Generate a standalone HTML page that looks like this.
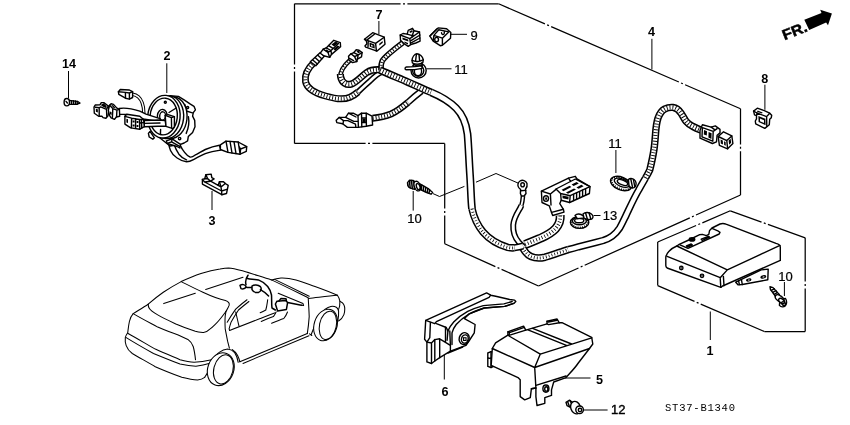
<!DOCTYPE html>
<html>
<head>
<meta charset="utf-8">
<title>SRS Unit Diagram</title>
<style>
html,body{margin:0;padding:0;background:#fff;}
body{width:850px;height:425px;overflow:hidden;font-family:"Liberation Sans",sans-serif;}
svg{display:block;will-change:transform;}
.l{fill:none;stroke:#000;stroke-width:1.4;stroke-linejoin:round;stroke-linecap:round;}
.w{fill:#fff;stroke:#000;stroke-width:1.4;stroke-linejoin:round;stroke-linecap:round;}
.t{fill:none;stroke:#000;stroke-width:0.8;stroke-linejoin:round;stroke-linecap:round;}
.tw{fill:#fff;stroke:#000;stroke-width:0.8;stroke-linejoin:round;stroke-linecap:round;}
.c{fill:none;stroke:#000;stroke-width:1.05;stroke-linejoin:round;stroke-linecap:round;}
.cw{fill:#fff;stroke:#000;stroke-width:1.05;stroke-linejoin:round;stroke-linecap:round;}
.ld{fill:none;stroke:#000;stroke-width:1;}
.dd{fill:none;stroke:#000;stroke-width:1.2;stroke-dasharray:62 2.5 2.5 2.5;}
.k{fill:#000;stroke:none;}
text{font-family:"Liberation Sans",sans-serif;fill:#000;}
.b{font-weight:bold;font-size:12.6px;}
.r{font-weight:normal;font-size:13px;stroke:#000;stroke-width:0.22px;}
</style>
</head>
<body>
<svg width="850" height="425" viewBox="0 0 850 425">
<rect x="0" y="0" width="850" height="425" fill="#fff"/>

<!-- ===== BOXES ===== -->
<g id="boxes" fill="none" stroke="#000" stroke-width="1.25" stroke-linecap="butt">
<path d="M294.5,3.8 L498.6,3.8" stroke-dasharray="106.1 2.4 2.0 2.4 92.2"/>
<path d="M498.6,3.8 L740.5,108.8" stroke-dasharray="50.5 2.4 2.0 2.4 139.2 2.4 2.0 2.4 61.4"/>
<path d="M740.5,108.8 L740.5,195.0" stroke-dasharray="35.6 2.4 2.0 2.4 44.8"/>
<path d="M740.5,195.0 L538.5,286.0" stroke-dasharray="48.8 2.4 2.0 2.4 115.3 2.4 2.0 2.4 44.9"/>
<path d="M538.5,286.0 L444.7,243.8" stroke-dasharray="40.5 2.4 2.0 2.4 56.6"/>
<path d="M444.7,243.8 L444.7,143.4" stroke-dasharray="28.4 2.4 2.0 2.4 66.2"/>
<path d="M444.7,143.4 L294.5,143.4" stroke-dasharray="72.3 2.4 2.0 2.4 72.1"/>
<path d="M294.5,143.4 L294.5,3.8" stroke-dasharray="72.0 2.4 2.0 2.4 61.8"/>
<path d="M657.7,242.0 L730.3,210.8" stroke-dasharray="41.8 2.4 2.0 2.4 31.4"/>
<path d="M730.3,210.8 L805.2,237.8" stroke-dasharray="33.2 2.4 2.0 2.4 40.6"/>
<path d="M805.2,237.8 L805.2,331.5" stroke-dasharray="43.8 2.4 2.0 2.4 44.1"/>
<path d="M805.2,331.5 L764.4,331.5" stroke-dasharray="41.8"/>
<path d="M764.4,331.5 L657.7,285.6" stroke-dasharray="69.3 2.4 2.0 2.4 41.1"/>
<path d="M657.7,285.6 L657.7,242.0" stroke-dasharray="44.6"/>
</g>

<!-- ===== LEADERS ===== -->
<g id="leaders" class="ld">
<path d="M68.5,71 V98"/>
<path d="M166.8,63.3 V93"/>
<path d="M212,191 V210"/>
<path d="M378.9,21 V34.2"/>
<path d="M451,34.3 H467"/>
<path d="M426.2,68.8 H451.5"/>
<path d="M651.9,38.8 V69.5"/>
<path d="M764.9,84.7 V109.8"/>
<path d="M615.9,150 V173"/>
<path d="M593.6,215.5 H600.5"/>
<path d="M413.2,191 V210.6"/>
<path d="M433,193.6 L439.5,196.5 L464.4,186.4 M476,182.2 L496,173.5 L518.6,183.3"/>
<path d="M784.4,282 V296"/>
<path d="M710.3,311.5 V340"/>
<path d="M444.3,353 V379.5"/>
<path d="M565,378 H590.5"/>
<path d="M584,410 H607.6"/>
</g>

<!-- ===== LABELS ===== -->
<g id="labels">
<text class="b" x="69" y="67.5" text-anchor="middle">14</text>
<text class="b" x="167" y="60.2" text-anchor="middle">2</text>
<text class="b" x="212" y="225" text-anchor="middle">3</text>
<text class="b" x="379" y="18.8" text-anchor="middle">7</text>
<text class="r" x="474" y="40" text-anchor="middle">9</text>
<text class="r" x="461" y="74" text-anchor="middle">11</text>
<text class="b" x="651.5" y="36.4" text-anchor="middle">4</text>
<text class="b" x="764.8" y="83" text-anchor="middle">8</text>
<text class="r" x="615" y="148.3" text-anchor="middle">11</text>
<text class="r" x="610" y="220.4" text-anchor="middle">13</text>
<text class="r" x="414.5" y="223" text-anchor="middle">10</text>
<text class="r" x="785.5" y="281" text-anchor="middle">10</text>
<text class="b" x="710" y="355" text-anchor="middle">1</text>
<text class="b" x="445" y="396" text-anchor="middle">6</text>
<text class="b" x="599.5" y="383.5" text-anchor="middle">5</text>
<text class="r" x="618.3" y="414" text-anchor="middle" style="stroke-width:0.4px">12</text>
<text x="665" y="410.8" font-family="Liberation Mono, monospace" font-size="10.5" textLength="70" lengthAdjust="spacing" style="font-family:'Liberation Mono',monospace">ST37-B1340</text>
</g>

<!-- ===== FR ARROW ===== -->
<g id="fr">
<polygon class="k" points="804.3,19.7 821.5,12.9 820.2,9.7 831.9,13.6 828,25.2 826.1,22.6 809.2,30"/>
<text transform="translate(784.5,40.2) rotate(-21.5)" font-weight="bold" font-size="14.5" textLength="25.5" lengthAdjust="spacingAndGlyphs" stroke="#000" stroke-width="0.5">FR.</text>
</g>

<!-- ===== HARNESS (part 4) ===== -->
<defs>
<path id="T1r" d="M314.5,62 C308,68 304.2,74 305.5,81.5 C307,89 316.5,93.5 325.5,96 C333.5,98.3 342,100.5 350,97.2 C353,96 355.5,94.2 358,92"/>
<path id="T1s" d="M358,92 C362,88.2 366,84.4 370,81 C374,77 378,73.5 382,72"/>
<path id="T2a" d="M350.2,60 C344,65.5 339.8,71 340.6,77"/>
<path id="T2" d="M340.4,74 C340.4,75 340.5,76 340.7,77 C341.8,82.6 346.5,85.6 351.5,84 C356.5,82.4 361,76.6 367,72.4 C371,69.8 376,69.4 381,69.8"/>
<path id="T3" d="M403,42.6 C398,46.4 393,50.4 389.4,53.4 C386,56.4 383.6,58.8 382.4,60.6 C381.2,63 380.8,66 381,70"/>
<path id="T4a" d="M380,70 C390,74.6 400,78.6 408,82.2 C418,86.6 425,89.8 431,92.3"/>
<path id="T4b" d="M431,92.3 C440,96 450,102 456,108 C462,114 466,122 467.5,134 C468.5,145 469,160 470,175 C471,190 471,200 472,208.8"/>
<path id="T4c" d="M472,208.8 C474,218 478,226 483,232 C489,239 498,244.5 507.8,247.4 C510,247.9 512,248 514.5,247.8"/>
<path id="T4d" d="M514.5,247.8 C517,247.4 520,246.8 523,246"/>
<path id="T5r" d="M372.6,118.2 C380,117.4 386,116 391,114 C397,111.4 402,107.6 408,102.4"/>
<path id="T5s" d="M408,102.4 C412,98.6 416,95.2 421.5,91"/>
<path id="T6a" d="M523,196 C522.7,199.6 522.3,202.6 521.4,205.4"/>
<path id="T6" d="M521.4,205.4 C520.8,207 520,208.6 519,210 C516,215 513.6,219 513.2,225 C512.8,232 515.2,238 518.7,242 L523.6,247"/>
<path id="T7" d="M525,244.6 C531,242 537,239.6 541.4,237.8 C548,234.8 552.4,232 555.6,228.6 C559,224.6 560.6,220.4 560.2,215.4"/>
<path id="T8r" d="M522.8,248 C525,252 527.5,255 531,256.5 C535,258.2 540,258.4 545,257.2 C552,255.2 556,253.4 562,251.6 L568,249.6"/>
<path id="T8s" d="M568,249.6 C572,248.6 575,247.8 578.5,246.8 C587,244.6 595,242.6 603.2,240.5 C606.5,239.4 609.5,238 612,236.2 C615,234 617.6,231.2 619.7,227.9 C622,224 624,219.5 626.2,215 C630,207 634,198 638.7,190 C641,185.6 643.4,181.6 645.5,178"/>
<path id="T8t" d="M645.5,178 C647,175.4 648.6,172.6 649.8,170 C651.5,163 653,156 654,149.4 C654.8,144 655.2,138 655.6,133 C656,127.5 656.6,122.5 658,118.1 C659.6,113.5 662,110.5 664.7,109 C667.4,107.6 670,107.2 672.9,107.4 C676,107.8 679,110 681.1,113.2 C683,116 684.3,119 686.1,121.4 C688,123.6 690,125.2 692.7,126.4 C695,127.6 697.6,128.8 701,130.2"/>
</defs>
<g id="harness" fill="none" stroke-linecap="butt" stroke-linejoin="round">
 <use href="#T1r" stroke="#000" stroke-width="7.0"/><use href="#T1r" stroke="#fff" stroke-width="3.9"/><use href="#T1r" stroke="#000" stroke-width="3.9" stroke-dasharray="0.9 2"/>
 <use href="#T1s" stroke="#000" stroke-width="5.9"/><use href="#T1s" stroke="#fff" stroke-width="2.8"/>
 <use href="#T2a" stroke="#000" stroke-width="4.8"/><use href="#T2a" stroke="#fff" stroke-width="2.0"/><use href="#T2a" stroke="#000" stroke-width="2.0" stroke-dasharray="0.9 2"/>
 <use href="#T2" stroke="#000" stroke-width="7.2"/><use href="#T2" stroke="#fff" stroke-width="4.0"/><use href="#T2" stroke="#000" stroke-width="4.0" stroke-dasharray="0.9 2"/>
 <use href="#T3" stroke="#000" stroke-width="5.6"/><use href="#T3" stroke="#fff" stroke-width="2.7"/><use href="#T3" stroke="#000" stroke-width="2.7" stroke-dasharray="0.9 2"/>
 <use href="#T5r" stroke="#000" stroke-width="7.0"/><use href="#T5r" stroke="#fff" stroke-width="3.9"/><use href="#T5r" stroke="#000" stroke-width="3.9" stroke-dasharray="0.9 2"/>
 <use href="#T5s" stroke="#000" stroke-width="6.7"/><use href="#T5s" stroke="#fff" stroke-width="3.7"/>
 <use href="#T6a" stroke="#000" stroke-width="4.6"/><use href="#T6a" stroke="#fff" stroke-width="1.8"/>
 <use href="#T6" stroke="#000" stroke-width="6.0"/><use href="#T6" stroke="#fff" stroke-width="3.0"/>
 <use href="#T7" stroke="#000" stroke-width="9.0"/><use href="#T7" stroke="#fff" stroke-width="6.0"/><use href="#T7" stroke="#000" stroke-width="3.6" stroke-dasharray="0.8 2.2"/>
 <use href="#T8r" stroke="#000" stroke-width="7.6"/><use href="#T8r" stroke="#fff" stroke-width="4.6"/><use href="#T8r" stroke="#000" stroke-width="3.0" stroke-dasharray="0.8 2.2"/>
 <use href="#T8s" stroke="#000" stroke-width="7.4"/><use href="#T8s" stroke="#fff" stroke-width="4.4"/>
 <use href="#T8t" stroke="#000" stroke-width="7.4"/><use href="#T8t" stroke="#fff" stroke-width="4.3"/><use href="#T8t" stroke="#000" stroke-width="4.3" stroke-dasharray="0.9 2"/>
 <use href="#T4a" stroke="#000" stroke-width="7.7"/><use href="#T4a" stroke="#fff" stroke-width="4.6"/><use href="#T4a" stroke="#000" stroke-width="4.6" stroke-dasharray="0.9 2"/>
 <use href="#T4b" stroke="#000" stroke-width="7.9"/><use href="#T4b" stroke="#fff" stroke-width="4.8"/>
 <use href="#T4c" stroke="#000" stroke-width="7.6"/><use href="#T4c" stroke="#fff" stroke-width="4.6"/><use href="#T4c" stroke="#000" stroke-width="3.0" stroke-dasharray="0.8 2.2"/>
 <use href="#T4d" stroke="#000" stroke-width="7.0"/><use href="#T4d" stroke="#fff" stroke-width="4.0"/>
</g>
<!-- ===== HARNESS CONNECTORS ===== -->
<g id="conn1">
 <polygon class="w" points="320.3,52.6 324.2,56.2 315.8,65.8 310.3,61.8"/>
 <path class="l" d="M317.8,55.2 L321.8,58.8 M315.3,57.8 L319.4,61.6 M312.8,60 L317.4,64" stroke-width="1.2"/>
 <polygon class="w" points="320.3,53.2 323.2,49.1 326.2,47.9 333.8,40.3 340.3,42.6 340.6,46.8 331.5,54.4 329.7,57.4 323.8,55.8"/>
 <path class="l" d="M326.2,47.9 L331,50.5 L338.5,43.5 M331,50.5 L331.5,54.4 M323.2,49.1 L328,52.5 L329.7,57.4 M328,52.5 L331,50.5 M328.6,45.6 L333,48.4" stroke-width="1.1"/>
 <path class="k" d="M331.4,44.6 L335.5,41.6 L338.4,43 L334.2,46.6 Z M333.5,49 L337.5,45.6 L339.8,46.6 L335,50.8 Z M324.4,50.4 L326.6,49.4 L329.6,51.4 L327.6,52.6 Z"/>
</g>
<g id="conn2">
 <polygon class="w" points="348.5,56.2 350.9,53.8 353.8,52.6 356.2,49.7 359.1,50.3 362.1,52.6 361.5,56.8 357.4,59.1 356.8,61.5 352.6,62.6 349.1,60.3"/>
 <path class="l" d="M353.8,52.6 L358.2,54.8 L362.1,52.6 M358.2,54.8 L357.4,59.1 M350.9,53.8 L354.6,56.6 L356.8,61.5 M354.6,56.6 L358.2,54.8 M349.5,58.4 L353.6,60.6"/>
 <path class="k" d="M356.4,51.3 L358.6,50.8 L360.4,52.2 L358.4,53.3 Z"/>
</g>
<g id="conn3">
 <polygon class="w" points="400.2,35 403,33.5 407.2,34.1 408.2,30.4 412.5,28.3 414,30.7 419.5,32 420.1,41.1 415.8,43 410.9,44.5 408.2,46.4 404.8,44.2 400.5,40.2"/>
 <path class="l" d="M400.2,35 L409.8,38.6 L410.6,44.6 M409.8,38.6 L419.5,32 M407.2,34.1 L412.2,35.6 L414,30.7 M412.2,35.6 L412.6,37 M411.4,40.4 L420,35 M411.6,42.6 L420,38" stroke-width="1.1"/>
 <path class="k" d="M402.4,37.4 L408.2,39.4 L408.4,41.6 L402.6,39.6 Z M409.4,31.4 L412.2,30 L412.8,31.8 L410,33 Z M410.8,36.2 L413,34.4 L414.6,35.2 L412.4,37 Z M404.4,41.4 L408,43 L408,44.4 L404.6,43 Z"/>
</g>
<g id="connB">
 <polygon class="w" points="336.2,120.3 339.1,117.4 345.6,117.4 348.5,113.2 353.2,113.2 358,115.6 361.5,113.2 366.2,113.2 372,116.2 372.6,125 366.2,126.2 358,127.4 347.4,127.4 342.6,123.8 336.8,122.6"/>
 <path class="l" d="M339.1,117.4 L343.5,120.6 L347.8,120.6 L355.5,124.2 L355.8,127.3 M345.6,117.4 L353.8,121.4 L358.2,121.2 L358,115.6 M348.5,113.2 L356,117 M358.2,121.2 L358.4,127.3 M361.5,113.2 L361.8,126.8 M366.2,113.2 L366.4,126 M343.5,120.6 L343,123.8 M361.8,118 L366.2,118 M361.8,122.5 L366.2,122.5"/>
 <path class="k" d="M362.4,118.6 H365.8 V122 H362.4 Z"/>
</g>
<g id="connBig">
 <!-- silhouette -->
 <path class="w" d="M541.4,191.2 L568.5,178.2 L575.3,176.3 L577,178.8 L590,186.7 L589.4,193.5 L569.6,202.5 L561.2,200.2 L559.8,203.6 L563.4,209.3 L564,212.1 L552.7,215.5 L551.6,212.7 L549.3,205.9 L542,202.5 Z"/>
 <!-- flange -->
 <path class="l" d="M541.4,191.2 L550.4,194 L551,205 M550.4,194 L556,189.4 M551.6,212.4 L563.4,209.3" stroke-width="1.2"/>
 <ellipse class="w" cx="546" cy="198.6" rx="2.5" ry="2.8" stroke-width="1.2"/>
 <path class="k" d="M545.2,197.4 h1.8 v2.4 h-1.8 z"/>
 <!-- body -->
 <path class="l" d="M556,189 L575.3,179 L590,186.7 M556,189 L560.6,193.5 L570.2,195.7 L589.4,186.9 M570.2,195.7 L569.6,202.5 M560.6,193.5 L561.2,200.2 M568.5,178.2 L570.6,181.4" stroke-width="1.2"/>
 <path class="l" d="M573.6,194.4 V200.6 M576.6,193 V199.2 M579.6,191.6 V197.8 M582.6,190.2 V196.4 M585.6,188.8 V195" stroke-width="1"/>
 <path class="k" d="M561.6,189.8 L569.6,185.8 L571.4,187 L563.4,191.2 Z M566,192.4 L574,188.4 L576,189.6 L568,193.8 Z M571.6,184.6 L576.6,182 L578.8,183.4 L573.6,186 Z M576.4,187.4 L581.4,184.8 L583.6,186.2 L578.6,188.8 Z M562.4,195.4 L568.6,196.8 L568.4,199.6 L562.6,198.2 Z"/>
</g>
<g id="connR">
 <polygon class="w" points="700,130.6 702.4,124.7 711.2,127.1 715.3,125.9 720,129.4 720,132.9 717.1,135.3 716.5,141.8 712.4,143.5 700,138.2"/>
 <path class="l" d="M702.4,127.6 L713.2,131.4 L712.8,141.2 L702,136.8 Z M713.2,131.4 L717.1,128.6 M711.2,127.1 L714.6,129.6"/>
 <path class="k" d="M704,130 L707,131.2 L706.8,135.6 L703.8,134.4 Z M708.6,132 L711.6,133.2 L711.4,139 L708.4,137.6 Z"/>
 <polygon class="w" points="718.2,136.5 723.5,131.8 731.8,135.9 732.9,143.5 727.6,148.8 719.4,145.3"/>
 <path class="l" d="M718.2,136.5 L726.8,140.6 L731.8,135.9 M726.8,140.6 L727.6,148.8"/>
 <path class="k" d="M720.6,139.6 L722.8,140.6 L723,144.4 L720.8,143.4 Z M724,141.2 L725.6,142 L725.8,145.8 L724.2,145 Z M728.6,140.5 L730.6,138.8 L731.2,142.8 L729.2,144.8 Z"/>
</g>
<g id="gndterm">
 <path class="w" d="M520,181 C522.5,179.5 526,180.5 527,183.5 C527.6,186 526.5,188 525.5,189.2 L526,193.5 L524.2,196 L521.4,196 L520.4,193.4 L520.6,189.4 C518.6,188 517.6,186 518,184 C518.3,182.5 519,181.6 520,181 Z"/>
 <ellipse class="w" cx="522.6" cy="184.8" rx="1.8" ry="2.1"/>
 <path class="l" d="M520.6,190.8 L525.8,190.4"/>
</g>
<!-- ===== SMALL PARTS ===== -->
<g id="p7">
 <polygon class="w" points="364.5,39.3 372.7,32.7 384.2,37.2 385,44.2 376.8,51.2 374.8,50.4 365.7,47.1 364.9,45.9 366.9,43.8 366.5,41.3"/>
 <path class="l" d="M364.5,39.3 L375.6,43.4 L384.2,37.2 M367.4,39.6 L374.4,34.2 M375.6,43.4 L376.4,50.8 M368.2,41.4 L368,46.8"/>
 <path class="k" d="M369.4,42.6 L374.4,44.4 L374.8,48.6 L369.8,46.8 Z M379.2,43.8 L382.6,41 L382.8,42.8 L379.4,45.6 Z"/>
 <path d="M371,44.4 L373.6,46.2 L371.2,46.6 Z" fill="#fff"/>
</g>
<g id="p9">
 <polygon class="w" points="429.9,36.1 438.1,27.9 446.6,28.8 450.8,32.6 450.5,38.2 442.4,45.3 440.2,45.7 433.2,41.1"/>
 <path class="l" d="M433.9,35.4 L438.8,29.8 L448.7,31.9 L442.4,38.2 Z M442.4,38.2 L442.4,44.6 M433.9,35.4 L433.2,40.6" />
 <path class="l" d="M429.9,36.1 L436.7,29" stroke-width="2.2"/>
 <ellipse class="w" cx="436.6" cy="39.6" rx="1.9" ry="2.2"/>
 <path class="l" d="M441.5,32.8 C441.5,34.8 443.6,35 444.2,33.4 L444.4,31.6" stroke-width="0.9"/>
</g>
<g id="p11a">
 <ellipse class="w" cx="418.6" cy="70.6" rx="7.6" ry="7.4"/>
 <ellipse class="l" cx="418.2" cy="70.6" rx="5.6" ry="5.6"/>
 <ellipse class="l" cx="418" cy="71.2" rx="3.6" ry="4.4"/>
 <path class="w" d="M414.6,66.6 L406.4,67 C404.6,67.2 404.6,69.6 406.4,69.8 L414.8,69.6 L422,68.4 L422,65.8 Z"/>
 <path class="w" d="M412,60.4 C412.4,57 414.4,54 416.9,53.8 C419.6,53.8 422.6,56.6 423.3,59.6 L422.8,62.6 C420,64.6 415,64.4 412.4,63 Z"/>
 <path class="l" d="M412.2,60.4 C415,62 420.4,61.8 423.2,59.8 M416.4,54.2 L415.6,60.8 M419,54.6 L419.6,60.6 M413.4,63.4 L413.8,66.4 M421.8,63 L422.2,66"/>
</g>
<g id="p11b">
 <g transform="rotate(22 621 183.5)">
 <ellipse class="w" cx="621" cy="183.5" rx="11" ry="6.4"/>
 <ellipse cx="621" cy="183.5" rx="10" ry="5.4" fill="none" stroke="#000" stroke-width="2" stroke-dasharray="1 1.3"/>
 <ellipse class="w" cx="621.5" cy="182.5" rx="8" ry="3.8"/>
 <ellipse class="l" cx="622" cy="182" rx="5.5" ry="2.3"/>
 </g>
 <path class="w" d="M628.4,179.6 C630.4,177.6 634,178.6 635.4,181 C636.8,183.6 636,186.6 634,187.6 C632,188.4 630,187.4 629,185.6 Z"/>
 <path class="l" d="M630.8,179 L632.6,187.6 M633.4,179.4 L634.8,186.6"/>
</g>
<g id="p13">
 <ellipse class="w" cx="579.6" cy="222.4" rx="9.2" ry="6"/>
 <ellipse cx="579.6" cy="222.6" rx="8.2" ry="5" fill="none" stroke="#000" stroke-width="2" stroke-dasharray="1 1.3"/>
 <ellipse class="w" cx="579.4" cy="221" rx="7" ry="3.8"/>
 <ellipse class="l" cx="579.2" cy="220.6" rx="4.6" ry="2.2"/>
 <path class="w" d="M575,215.4 C577,213.4 580.6,213.6 583,215.8 L585,218 L577.4,218.6 Z"/>
 <path class="w" d="M583,214 C585.4,211.6 589.4,212.4 591.4,214 C593.4,215.6 593.4,217.6 592,218.8 C590,220 586,219.6 584,218 Z"/>
 <path class="l" d="M585.6,213 L587.4,219.2 M589,212.8 L590.8,219"/>
</g>
<g id="p8">
 <polygon class="w" points="753.6,111.1 757.3,108.2 764.3,110.7 769.7,113.2 771.7,115.2 771.3,117.7 769.7,119.3 769.3,124.7 764.8,128.4 755.7,123.9 755.3,121 756.5,118.9 756.5,115.6 754.5,114.8"/>
 <path class="l" d="M753.6,111.1 L757,113 L766.6,116.6 L769.7,113.2 M766.6,116.6 L766.8,126.6 M757,113 L756.5,115.6"/>
 <path class="k" d="M758.4,116 L765.4,118.8 L765.6,125.2 L758.6,122 Z"/>
 <path d="M760,118.4 L764,120.2 L764,123 L760,121.2 Z" fill="#fff"/>
 <path class="k" d="M757.6,110.6 L762.6,112.4 L762,113.6 L757,111.8 Z"/>
</g>
<g id="s14">
 <path class="w" d="M69,100.4 L77.4,101.4 L80,103 L77.2,104.2 L69,104.4 Z"/>
 <path class="l" d="M71.4,100.6 V104.4 M73.4,100.8 V104.4 M75.4,101 V104.4 M77.2,101.4 V104.2" stroke-width="1"/>
 <ellipse class="w" cx="66.8" cy="102.2" rx="2.7" ry="3.7" stroke-width="1.4"/>
 <path class="l" d="M66,101.4 L67.4,103" stroke-width="0.7"/>
</g>
<g id="s10a">
 <path class="w" d="M419.4,183.6 L428.2,188.6 L432.6,192.6 L431,194.2 L426.8,192.5 L420.1,189.3 Z"/>
 <path class="l" d="M421.8,185 L421.4,190 M423.8,186.2 L423.2,190.8 M425.8,187.4 L425.2,191.8 M427.8,188.6 L427.2,192.6 M429.6,190 L429,193.4" stroke-width="1"/>
 <path class="w" d="M407.5,182.6 L409.5,180.3 L413,180.4 L415.4,182 L414.4,189.4 L409.9,187.9 L407.8,185.8 Z"/>
 <path class="l" d="M409.8,180.6 L408.9,187 M411.6,180.4 L410.8,188 M413.4,180.8 L412.6,188.8" stroke-width="1"/>
 <ellipse class="w" cx="417.3" cy="186.1" rx="3" ry="5" transform="rotate(-20 417.3 186.1)" stroke-width="1.5"/>
 <ellipse class="l" cx="418.2" cy="186.6" rx="1.7" ry="3.1" transform="rotate(-20 418.2 186.6)" stroke-width="1.1"/>
</g>
<g id="s10b">
 <path class="w" d="M770,286.6 L773,287.6 L779.4,294.6 L776,297 L770.4,289.4 Z"/>
 <path class="l" d="M771.2,290.4 L774.4,288.8 M772.8,292.4 L776,290.6 M774.4,294.4 L777.4,292.4 M775.6,296.2 L778.6,294" stroke-width="1"/>
 <path class="w" d="M780,299.6 L785.4,298.4 C787,300.6 787,304 785.4,305.8 C783.6,307.4 781,307.2 779.4,305.4 Z"/>
 <ellipse class="w" cx="779.6" cy="298.6" rx="5" ry="2.8" transform="rotate(38 779.6 298.6)" stroke-width="1.4"/>
 <ellipse class="w" cx="781.6" cy="301" rx="3.4" ry="2" transform="rotate(38 781.6 301)"/>
 <ellipse class="l" cx="783.6" cy="303.6" rx="2.2" ry="1.6" transform="rotate(38 783.6 303.6)"/>
</g>
<g id="s12">
 <path class="w" d="M566,402.4 L569.6,400.2 L573.6,403 L571,407.6 L567,405.6 Z"/>
 <path class="l" d="M567.6,401.6 L569.4,406.6 M570,400.6 L572,404.4" stroke-width="1"/>
 <ellipse class="w" cx="575.6" cy="407.6" rx="4.8" ry="6.4" transform="rotate(-20 575.6 407.6)" stroke-width="1.4"/>
 <circle class="w" cx="579.6" cy="409.8" r="3.8" stroke-width="1.4"/>
 <circle class="l" cx="580" cy="410" r="1.7" stroke-width="0.8"/>
</g>
<!-- ===== PART 2 CLOCK SPRING ===== -->
<g id="p2">
 <!-- flat cable out bottom -->
 <path class="w" d="M168.6,143.4 C169,146 169.6,148.4 170.5,150.5 C172,154 174.4,156.4 177.1,158 C180,160 183.4,161.6 186.5,161.8 C189,161.8 191.6,160.6 194,159.3 C197.6,157.4 201.4,155.4 205.3,153.7 C210,151.8 215,150.8 220.8,150.1 L219.4,145.2 C214.4,146 209.6,147.6 205.3,149.5 C201.6,151.2 198.4,153.6 194.9,155.2 C193.4,156.4 191.8,157.4 190.2,157.1 C188,156 186,154.4 184.6,152.4 C183,150.4 181.6,148.4 180.4,145.6 Z"/>
 <path class="l" d="M174.2,144.8 C175.4,148.4 177,151.4 178.9,154.2 C181,156.8 183.6,158.8 186.5,159.9" stroke-width="1"/>
 <!-- cable connector -->
 <polygon class="w" points="220.4,144.8 226,141.1 238.2,142 246.7,146.7 246.3,151.4 240.1,154.2 227.9,152.4 220.4,149.5"/>
 <path class="l" d="M226,141.1 L228,152.4 M230,141.4 L232,153 M234,141.7 L236,153.6 M238.2,142 L240.1,154.2 M240.1,154.2 L240.6,149 L246.7,146.7 M239,146.4 L240.6,149" stroke-width="1.1"/>
 <!-- back body -->
 <path class="w" d="M170,95.7 L178.4,96.4 L184.1,99.9 L190.4,104.1 L194,106.3 L195.4,109.8 L193.3,112.6 L192.6,116.1 L194.7,120.4 L195,126.7 L192.6,132.4 L188.3,136.6 L187.6,140.9 L184.1,143 L180.5,144.4 L170,146 L160,138 Z"/>
 <path class="l" d="M184.8,104.4 L186.4,111 L192.4,112.8 M186.4,111 L185.6,116 M188.4,116.6 C189.4,122 188.6,128 186.2,133.4" stroke-width="1.1"/>
 <circle class="w" cx="187.6" cy="107.6" r="1.1" stroke-width="0.9"/>
 <circle class="w" cx="179.6" cy="138.6" r="1.2" stroke-width="0.9"/>
 <!-- bottom tab -->
 <polygon class="w" points="166.4,140.9 172.1,138.8 180.5,144.4 179.8,148 177,146.5 167.1,143.4"/>
 <path class="l" d="M172.1,138.8 L171.6,141.8 L179.6,146.4 M167.1,143.4 L171.6,141.8" stroke-width="1.1"/>
 <!-- lug bottom-left -->
 <path class="w" d="M150,131.4 L154.4,137.8 L152.8,139.2 L149.2,137 L148.4,133.4 Z"/>
 <!-- rim cylinder -->
 <ellipse class="w" cx="171.6" cy="117.6" rx="15.4" ry="21" transform="rotate(6 171.6 117.6)" stroke-width="1.2"/>
 <ellipse class="w" cx="167.6" cy="117.2" rx="16" ry="21.4" transform="rotate(6 167.6 117.2)" stroke-width="1.3"/>
 <ellipse class="w" cx="163.9" cy="116.7" rx="16.2" ry="21.4" transform="rotate(6 163.9 116.7)" stroke-width="1.5"/>
 <ellipse class="l" cx="163.7" cy="116.5" rx="13.6" ry="18.4" transform="rotate(6 163.7 116.5)"/>
 <circle class="w" cx="165.3" cy="102.2" r="1" stroke-width="0.8"/>
 <path class="l" d="M169,112.5 L176.2,108 M160.6,129.5 L160.4,134.6" stroke-width="1.1"/>
 <!-- hub -->
 <ellipse class="w" cx="162.2" cy="115.8" rx="4.8" ry="6.4" transform="rotate(6 162.2 115.8)" stroke-width="1.3"/>
 <ellipse class="l" cx="162.6" cy="116" rx="2.9" ry="4.2" transform="rotate(6 162.6 116)"/>
 <!-- wire from conn A -->
 <path d="M132.6,94.3 C137,95 140,97 142.2,102.8 C143.4,106 143.8,109 143.8,113" fill="none" stroke="#000" stroke-width="3.4"/>
 <path d="M132.6,94.3 C137,95 140,97 142.2,102.8 C143.4,106 143.8,109 143.8,113" fill="none" stroke="#fff" stroke-width="1.4"/>
 <!-- cable from B to hub -->
 <path class="w" d="M119.1,108.5 C124,107.6 130,108 139.8,111.1 L146,114.2 L160,118.6 L160,121.4 L143,119 L126,114.4 L119.1,114.3 Z"/>
 <!-- cable from C to hub -->
 <path class="w" d="M144.3,120.6 L158,120 L165.2,120.6 L166,126.3 L158,126.2 L144.3,126.8 Z"/>
 <path class="l" d="M144.3,123.4 L160,123"/>
 <!-- hub block -->
 <polygon class="w" points="165.2,115.4 168,114.6 174.4,116.6 174.4,126.6 172.9,128.6 166,126.4"/>
 <path class="l" d="M165.2,115.4 L171.4,117.6 L174.4,116.6 M171.4,117.6 L171.6,127.8"/>
 <!-- conn A -->
 <polygon class="w" points="118.4,91.7 120.3,89.5 129.4,90 132.6,91.7 132.6,97.5 129.4,99.1 125.5,98.2 118.8,94.3"/>
 <path class="l" d="M118.4,91.7 L125.4,92.4 L129.4,93 L132.6,91.7 M125.4,92.4 L125.5,98.2 M129.4,93 L129.4,99.1"/>
 <!-- conn B -->
 <polygon class="w" points="94,107.2 95.2,105 100.1,104.7 101.3,102.6 103.8,102.6 108.3,106 109,110.2 108,115.7 105.9,118.2 103.1,117.6 101.9,116.3 98.6,116.3 94.3,113.3"/>
 <path class="l" d="M95.2,107.2 L99.2,107.8 L99.2,115.7 M99.2,107.8 L100.7,106.9 L106.5,109.3 L106.8,116.3 M106.5,109.3 L108.3,106" stroke-width="1.1"/>
 <path class="k" d="M100.7,104.9 L103.6,103.2 L106.6,106 L106.4,108.2 L103,106.8 Z M95.8,108.8 L97.8,109.2 L97.9,112.6 L95.9,111.8 Z"/>
 <polygon class="w" points="109.6,105.3 111.1,103.8 113.5,104.4 116.9,108.1 119.4,109.3 119.7,116.3 116.3,117 114.5,119.4 111.1,117.9 109.6,115.7 108.3,110.2"/>
 <path class="l" d="M109.6,105.3 L112.8,108.6 L116.9,110.2 L116.6,116.8 M116.9,110.2 L119.4,109.3 M112.8,108.6 L112.4,117.6" stroke-width="1.1"/>
 <path class="k" d="M111.2,105 L113.2,105.2 L115.8,108.4 L113.4,107.8 Z M110,111.6 L111.6,112.2 L111.6,115 L110,114.2 Z"/>
 <!-- conn C -->
 <polygon class="w" points="124.9,116.3 126.8,114.3 139.8,116.3 143.6,119.5 144.3,126.6 139.8,129.2 130.7,127.9 124.9,124.1"/>
 <path class="l" d="M124.9,116.3 L131.6,118.2 L139.4,119.4 L139.8,129.2 M131.6,118.2 L131.4,127.8 M135.6,118.8 L135.6,128.4 M139.4,119.4 L143.6,119.5 M141.4,120 L141.8,128 M139.6,123 L144,122.6"/>
 <path class="k" d="M132.6,120.4 H134.6 V122.6 H132.6 Z M132.6,124.4 H134.6 V126.4 H132.6 Z M136.6,121 H138.4 V123 H136.6 Z M136.6,125 H138.4 V127 H136.6 Z M126.4,118.8 L128,119.2 V123 L126.4,122.4 Z"/>
</g>
<!-- ===== PART 3 ===== -->
<g id="p3">
 <polygon class="w" points="202.4,179.4 202.4,184.1 221.8,194.7 226.5,193.5 228.2,185.3 225.3,183.5 223.5,181.8 219.4,181.8 218.2,185.3 210.6,181.2 214.1,178.8 211.8,177.6 211.2,174.1 205.9,174.7 204.7,178.8"/>
 <path class="l" d="M202.4,179.4 L204.6,182 L221.6,191 L226.8,189.4 M221.6,191 L221.8,194.7 M204.6,182 L210.6,181.2 M205.9,174.7 L207.6,178.6 L210.6,181.2 M207.6,178.6 L204.7,178.8 M218.2,185.3 L221,187 L221.6,191 M221,187 L225.3,183.5 M219.4,181.8 L221,187"/>
</g>
<!-- ===== PART 1 ECU ===== -->
<g id="p1">
 <!-- bracket -->
 <path class="w" d="M735.7,282.2 L738.2,284.9 L742.3,284.5 L767.8,279.8 L768.2,269.1 L761.2,269.9 Z"/>
 <path class="l" d="M741.4,279.4 L742.3,284.5 M738.6,281 L739.4,284.6" stroke-width="1.1"/>
 <ellipse class="k" cx="748.7" cy="280" rx="2.8" ry="1.5" transform="rotate(-12 748.7 280)"/>
 <ellipse class="k" cx="763.3" cy="276.9" rx="3" ry="1.7" transform="rotate(-12 763.3 276.9)"/>
 <ellipse cx="748.9" cy="280" rx="1" ry="0.45" transform="rotate(-12 748.9 280)" fill="#fff"/>
 <ellipse cx="763.5" cy="276.9" rx="1.1" ry="0.5" transform="rotate(-12 763.5 276.9)" fill="#fff"/>
 <!-- body -->
 <path class="w" d="M676.8,246 L679.2,244.4 L688.8,240 L699.2,234.8 L702.4,234.4 L706.4,235.6 L708.8,234.4 L709.6,230.4 L712,228 L720,224 C722,223.2 724,223.2 726,224.2 L776,243.4 C778.6,244.2 780.3,245 780.3,247 L780.3,260.4 L722.6,286 L720.8,287.4 L667.1,268 C666.2,267.4 665.8,266.6 665.8,265.6 L665.8,257 C666.4,254.6 667.6,252.6 669,251.2 C671,249 673.6,247.4 676.8,246 Z"/>
 <path class="l" d="M676.8,246 L727.3,269.9 L780,245.4 M667.1,256.3 L720.2,277.7 L727.3,269.9 M720.2,277.7 L720.8,287.4 M723.4,276.4 L724,285.6"/>
 <!-- plate in cut-out -->
 <path class="l" d="M680,244.8 L688,248.4 L719.2,234 L720,232.4 L718.4,231.2 L712,228.4" stroke-width="1.2"/>
 <path class="l" d="M686.4,246 L691.2,244 L692.4,245 L687.6,247 Z M701.2,239.2 L708.4,236.4 L709.6,237.2 L702.4,240.4 Z" stroke-width="0.9"/>
 <ellipse class="k" cx="692" cy="239.4" rx="3.4" ry="2.4"/>
 <circle class="w" cx="681.3" cy="268" r="1.7" stroke-width="1"/><circle class="k" cx="681.3" cy="268" r="0.8"/>
 <circle class="w" cx="702" cy="275.8" r="1.7" stroke-width="1"/><circle class="k" cx="702" cy="275.8" r="0.8"/>
</g>
<!-- ===== PART 6 ===== -->
<g id="p6">
 <!-- silhouette -->
 <path class="w" d="M425.7,320.4 L486.6,292.9 L490.7,295.2 L495.7,296.2 L509.7,299.5 L514.6,300.1 L515.8,301.5 L513.8,303.4 L504.7,306.4 L484.2,308 L469.3,313.8 L464.4,318.6 L475.1,324.5 L474.3,332.8 L469.3,340.5 L466,345.4 L450.4,351.2 L439.7,357.7 L434.8,361 L431.5,363.5 L426.9,361.9 L426.9,342.1 L424.6,339.3 Z"/>
 <!-- top bar ridge & notch -->
 <path class="l" d="M425.7,320.4 L434.8,323.7 L436.4,321.6 L489.1,297.3 M490.7,295.2 L489.1,297.3 M436.4,323.7 L446.3,327.5 L447.9,331.1" stroke-width="1.2"/>
 <!-- strap -->
 <path class="l" d="M513.8,303.4 L504.7,306.4 L484.2,308 C478,310 473.6,311.6 469.3,313.8 C464,317 459.6,320.6 456.2,324.5 C454,327.4 452.6,330 452,332.8 L452,344.6" stroke-width="1.3"/>
 <path class="l" d="M512.2,301.5 L503.9,303.9 L483.3,305.6 C477,307.4 472,309.2 467.7,311.3 C462,314.4 457.4,318 453.7,322 C451,325 449,328 447.9,331.1 L447.1,340.2" stroke-width="1.1"/>
 <path class="l" d="M449.8,331 L450.4,345.4" stroke-width="0.9"/>
 <!-- left wall/leg -->
 <path class="l" d="M431.5,343 L431.5,363.5 M426.9,342.1 L431.5,343 L434.8,339.6 L434.8,361 M430.4,322.4 L429.8,337.6 L426.9,342.1" stroke-width="1.1"/>
 <!-- lower inner -->
 <path class="l" d="M434.8,339.6 L439.7,338.8 L450.4,345.4 L450.4,351.2 M439.7,338.8 L439.7,357.7 M445.5,327.2 L445.5,341.8 M447.9,353.1 L462.7,347" stroke-width="1.1"/>
 <!-- bolt -->
 <ellipse class="w" cx="464.2" cy="338.6" rx="5" ry="6" transform="rotate(15 464.2 338.6)" stroke-width="1.4"/>
 <ellipse class="l" cx="464.8" cy="339" rx="3.3" ry="4.2" transform="rotate(15 464.8 339)" stroke-width="1.1"/>
 <rect class="k" x="463" y="337.2" width="3.6" height="3.8"/>
 <rect x="464.1" y="338.3" width="1.4" height="1.6" fill="#fff"/>
</g>
<!-- ===== PART 5 ===== -->
<g id="p5">
 <!-- connector tab on left -->
 <path class="w" d="M487.8,353 L491,351.6 L494,352.6 L494,366 L491,367.5 L487.8,366.4 Z"/>
 <path class="l" d="M491,351.6 L491,367.5 M488,358 L491,358.6"/>
 <!-- main body -->
 <path class="w" d="M492.3,348.5 L495.6,342.9 L507.9,335.1 L507.9,331.8 L523.6,326.2 L525.8,330.2 L547,323.9 L547,321.3 L557.1,319 L559.3,322.8 L562,322.6 L591.7,337.3 L592.8,344 L589.5,348.5 L578.3,363 C575,368 571,372 566,377.6 L553.7,382 L551.5,389.9 L551.5,395.4 L544.8,397.7 L544.8,403.3 L537,405.5 L535.9,396.6 L535.9,388 L531.4,388.7 L530.3,397.7 L524.7,399.9 L520.2,396.6 L520.2,379.8 L518,377.6 L491.2,365.3 Z"/>
 <!-- tabs -->
 <path class="l" d="M507.9,335.1 L509,335.4 L525.8,330.2 M507.9,331.8 L509.4,332.6 L523.6,327.6 M509.4,332.6 L509,335.4 M547,323.9 L548.6,324.6 L559.3,322.8 M547,321.3 L548.4,322 L557.1,320.2"/>
 <!-- top face lines -->
 <path class="l" d="M509,336 L540.3,354.1 L591.7,337.8 M528,329.8 L567,345.6 M532.6,328.4 L571.6,344 M540.3,354.1 L534.7,367.5 M492.3,348.5 L534.7,367.5 L589.5,348.5 M534.7,367.5 L535.9,388"/>
 <path class="l" d="M535.9,385.4 L566,376 M531.4,388.7 L535.9,388"/>
 <ellipse class="w" cx="545.9" cy="388.6" rx="3" ry="3.6" stroke-width="1.3"/>
 <ellipse class="l" cx="546.3" cy="388.9" rx="1.6" ry="2.2"/>
</g>
<!-- ===== CAR ===== -->
<g id="car">
 <!-- roof + hood top contour -->
 <path class="c" d="M148.2,304.2 C153,300 158,296 163.3,292.3 C169,288.5 175,284.8 181.2,281.6 C188,278.4 194,275.8 201,273.5 C208,271.4 214,270 220,269.1 C223,268.5 226,268 228.6,268 C233,268.2 238,269.6 243.2,271 C252,273.6 262,277 271.5,279.9 C275,279 278,278.4 281,278 C286,277.8 291,278.6 296,279.9 C302,281.6 308,284 315,286.5 C322,289 330,292 337.4,295.3"/>
 <!-- front end -->
 <path class="c" d="M337.4,295.3 C339,297.5 339.6,299.6 339.9,301.2 C341.6,302 343.4,303.4 343.9,304.7 C345.2,307.6 344.8,311.6 343.9,314.6 C342.8,317.4 341,319.6 338.6,321"/>
 <path class="c" d="M308.6,298.4 C318,297.4 328,296.2 337.4,295.3"/>
 <path class="c" d="M339.9,301.2 C340,304 339.6,307 338.6,309.4"/>
 <!-- rear window -->
 <path class="c" d="M181.2,281.6 C188,285 195,288.6 202.9,292.3 C210,295.6 218,299 225.4,300.6 C228.6,301.6 229.8,303.4 229.1,305.4 C228.2,307.8 227,309.6 226,311.4 C222.6,316 219,321 215,324.6 C212.6,327 211,328.4 209.5,329.4 C207.6,331.4 205,332.6 202.9,332.4 C200,332.2 197.6,332 195.3,331.3 C189,329.2 182.6,327 176.5,324.3 C170,321.2 163.6,318.2 157.7,314.9 C153.4,312.4 150.4,310.6 149.2,308.3 C148.4,306.8 148.2,305.4 148.2,304.2"/>
 <path class="c" d="M163.7,303.6 L195.3,293.2 M205.7,289.5 L243,277.2"/>
 <!-- trunk -->
 <path class="c" d="M148.2,304.2 C143,307.4 138,310.6 133.2,313.6 C131,316 130,318.6 129.4,321.5 C128.6,325 128.2,329 127.7,332.8 C126.6,334.4 125.6,336 125.3,337.6 C125,340.4 125.4,343.4 126.2,345.6 C127.4,349 129.6,351.6 132.3,353.5 C140,358 148,362.4 155.3,366.7 C164,370.6 173,374 181.7,377.3 C187,378.6 192.6,379.8 197.6,380 C200.6,379.6 203,378.6 204.7,377.3"/>
 <path class="c" d="M133.2,313.6 C141,318.2 149.4,322.6 157.7,327.1 C164.4,330 171.4,332.8 178.2,335 L187.9,339.4 C190.6,341.4 192.4,343.8 193.2,346.5 C194.4,350.6 195,355 195.5,359.7"/>
 <path class="c" d="M127.7,333.2 C137,338.4 146,343.8 155.3,349.1 C163.4,352.8 171.8,356.2 180,359.7 C185,361 189.6,362 194.1,362.3 C200,362 206,361 211.7,359.7"/>
 <path class="c" d="M126.2,337.6 C135,343 144.4,348.4 153.5,353.5 C162.4,357.2 171,360.6 180,364.1 C185.4,365.2 190.6,366 195.9,366.2 C200.6,365.6 205.4,364.6 210,363.2"/>
 <!-- rear wheel + arch -->
 <path class="c" d="M204.7,377.3 C206,375.4 207.4,373.4 208.2,371.2 C209.4,367.6 210.4,364 211.7,360.6 C213.4,357.2 215.8,354.6 218.8,352.6 C221.6,350.6 224.6,349.2 227.6,349.1 C230.6,349.4 233,350.6 234.7,352.6 C236.6,355.4 237.6,358.8 238.2,362.3"/>
 <path class="c" d="M232.4,349.6 C234.6,351 236.4,353 237.6,355.4 C238.6,357.4 239.4,359.6 239.8,361.8"/>
 <ellipse class="cw" cx="220.8" cy="369.2" rx="13" ry="16.8" transform="rotate(20 220.8 369.2)"/>
 <ellipse class="c" cx="223.4" cy="369.4" rx="9.6" ry="14.8" transform="rotate(14 223.4 369.4)"/>
 <!-- C pillar / quarter window -->
 <path class="c" d="M226,311.4 C225.4,314 225,317 225,320 C225,323 225,326 225.2,328.8 C226,333 226.8,337.2 227.6,341.2 C228.2,343.6 228.8,346 229.4,348.2"/>
 <path class="c" d="M247,299.7 C243,302.6 239.4,305.8 235.7,309.1 C232.6,313.4 229.8,317.8 227.2,322.3"/>
 <path class="c" d="M248.9,301.5 C245.4,304.2 242,307 238.5,310 C235.8,314 233.4,318 231,322.3 C230.2,324.6 229.6,326.8 229.1,328.9 L229.6,330.4"/>
 <path class="c" d="M235.7,311.9 C236.6,316 237.6,320 238.5,324.1 L239,326"/>
 <path class="c" d="M229.6,330.4 C240,326.6 250,322.6 260.2,318.5 C265,316.6 270,314.6 275.3,312.8"/>
 <!-- interior dash lines -->
 <path class="c" d="M260.2,312.8 C262,312 264,311 265.8,310 C266.8,306.6 267.2,303 267.7,299.7 M261.2,321.4 C265,319.8 269.4,318 273.4,316.6 C274.6,315 275.6,313.4 276.2,311.9 M271.6,323.2 C275.6,321.6 279.6,320 283.8,318.5 C285.4,316.6 286.6,314.4 287.5,312"/>
 <!-- cowl + door front -->
 <path class="c" d="M271.5,279.9 C284,285.8 296,291.8 308.2,297.8 C308.6,304 309,310.4 309.2,316.6 C308.8,322.4 308.2,328 307.3,333.6"/>
 <path class="c" d="M274.6,279.4 C286,285 297.6,290.6 309.2,296.2"/>
 <path class="c" d="M278.2,293.2 L303,303.6 L303.6,305.6 L301.4,305.2"/>
 <!-- sill -->
 <path class="c" d="M239.8,361.8 C262,352.6 285,343 307.3,333.6 M243,363.4 C265,354.2 287,345 309,335.8"/>
 <!-- front wheel -->
 <path class="c" d="M311.1,334.7 C311.8,333 312.6,331 313.3,329.3 C314.6,325.4 316,321.4 317.9,317.9 C319.8,314.4 322,311.6 324.8,309.5 C326.8,308 328.8,306.8 330.9,306.4 C332.8,306.2 334.8,306.4 336.3,307.2 C337.6,308 338.2,309.4 338.6,311 C338.8,314 338.4,317.6 337.8,320.9"/>
 <ellipse class="cw" cx="325.6" cy="325" rx="11.4" ry="16.2" transform="rotate(18 325.6 325)"/>
 <ellipse class="c" cx="327.9" cy="325.4" rx="8.4" ry="14.4" transform="rotate(12 327.9 325.4)"/>
 <path class="c" d="M309.5,333.9 L311.8,335.5"/>
 <!-- harness in car -->
 <g fill="none" stroke="#000" stroke-width="1.5" stroke-linecap="round" stroke-linejoin="round">
  <path d="M248,275.2 C246,278 245,281 246,284.6 M246.4,278.2 C250,279.6 254,279.4 258.4,279.9 C262.6,281.4 265.6,284.2 267.7,286.5 C270,289.4 271,292.4 271.5,295 C271.8,299 271.4,304 272,308 L275.3,310"/>
  <path d="M240,285.4 C242,284 245,284.4 246,286.4 C246,288.4 243,289.4 241,288.6 Z M252,286 C254,284.4 258,284.6 260.4,286.6 C262,288.6 261,291.4 258.6,292.4 C256,292.8 253,291.6 252,289.6 Z M247,287.6 L252,287.6"/>
  <path d="M260.4,289.6 C263,291 266,293 268.6,296"/>
  <path d="M275.4,304 L277,301.2 L285.6,300.4 L287.6,302.6 L286.4,309.4 L277.6,311 Z" fill="#fff"/>
  <path d="M279,301 L281,298.4 L286,298.8 L286.4,300.4 M287.6,302.6 L301.4,305.2" />
 </g>
</g>
<!--PARTS-->

</svg>
</body>
</html>
